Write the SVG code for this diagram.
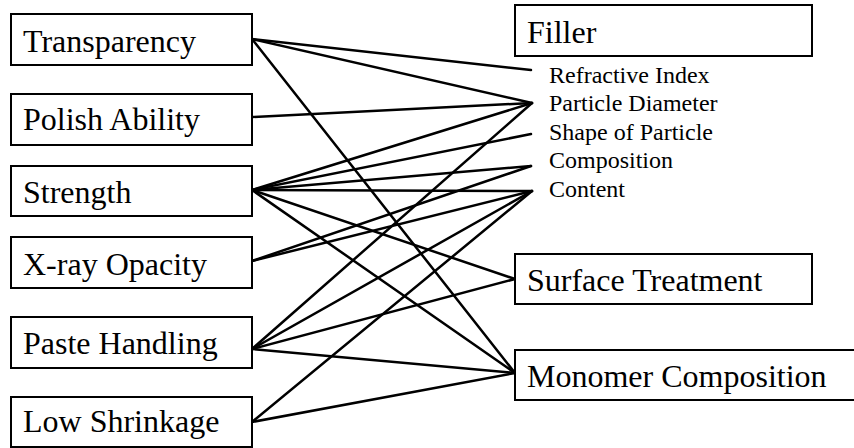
<svg xmlns="http://www.w3.org/2000/svg" width="854" height="448" viewBox="0 0 854 448">
<style>
.box{fill:#fff;stroke:#000;stroke-width:2}
.t{font-family:"Liberation Serif","Times New Roman",serif;font-size:32px;fill:#000}
.s{font-family:"Liberation Serif","Times New Roman",serif;font-size:24px;fill:#000}
.e line{stroke:#000;stroke-width:2.5;stroke-linecap:round}
</style>
<rect width="854" height="448" fill="#fff"/>
<g id="connectors" class="e">
<line x1="252" y1="39" x2="531" y2="70"/>
<line x1="252" y1="39" x2="532" y2="103"/>
<line x1="252" y1="39" x2="515" y2="373"/>
<line x1="252" y1="117" x2="532" y2="103"/>
<line x1="252" y1="190" x2="532" y2="103"/>
<line x1="252" y1="190" x2="531" y2="134"/>
<line x1="252" y1="190" x2="531" y2="166"/>
<line x1="252" y1="190" x2="532" y2="191"/>
<line x1="252" y1="190" x2="515" y2="279"/>
<line x1="252" y1="190" x2="515" y2="373"/>
<line x1="252" y1="261" x2="531" y2="166"/>
<line x1="252" y1="261" x2="532" y2="191"/>
<line x1="252" y1="349" x2="532" y2="103"/>
<line x1="252" y1="349" x2="532" y2="191"/>
<line x1="252" y1="349" x2="515" y2="279"/>
<line x1="252" y1="349" x2="515" y2="373"/>
<line x1="252" y1="422" x2="532" y2="191"/>
<line x1="252" y1="422" x2="515" y2="373"/>
</g>
<g id="transparency"><rect class="box" x="11" y="14" width="241" height="51"/><text class="t" x="23" y="52">Transparency</text></g>
<g id="polish-ability"><rect class="box" x="11" y="94" width="241" height="51"/><text class="t" x="23" y="130">Polish Ability</text></g>
<g id="strength"><rect class="box" x="11" y="166" width="241" height="50"/><text class="t" x="23" y="203">Strength</text></g>
<g id="x-ray-opacity"><rect class="box" x="11" y="237" width="241" height="51"/><text class="t" x="23" y="275">X-ray Opacity</text></g>
<g id="paste-handling"><rect class="box" x="11" y="317" width="241" height="51"/><text class="t" x="23" y="354">Paste Handling</text></g>
<g id="low-shrinkage"><rect class="box" x="11" y="397" width="241" height="50"/><text class="t" x="23" y="432">Low Shrinkage</text></g>
<g id="filler"><rect class="box" x="515" y="5" width="297" height="51"/><text class="t" x="527" y="43">Filler</text>
<text class="s" x="549" y="83">Refractive Index</text>
<text class="s" x="549" y="111">Particle Diameter</text>
<text class="s" x="549" y="140">Shape of Particle</text>
<text class="s" x="549" y="168">Composition</text>
<text class="s" x="549" y="197">Content</text></g>
<g id="surface-treatment"><rect class="box" x="515" y="254" width="297" height="50"/><text class="t" x="527" y="291">Surface Treatment</text></g>
<g id="monomer-composition"><rect class="box" x="515" y="350" width="350" height="50"/><text class="t" x="527" y="387">Monomer Composition</text></g>
</svg>
